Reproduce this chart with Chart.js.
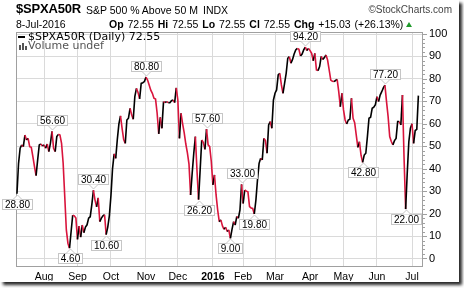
<!DOCTYPE html>
<html>
<head>
<meta charset="utf-8">
<script src="https://cdn.jsdelivr.net/npm/chart.js@4.4.1/dist/chart.umd.min.js"></script>
<style>
  html, body { margin: 0; padding: 0; background: #fff; }
  #frame { position: absolute; left: 0; top: 0; width: 459px; height: 282px; background: #fff;
           box-shadow: 3px 3px 3px rgba(0,0,0,0.85); overflow: hidden; }
  #chart { position: absolute; left: 0; top: 0; }
  .hdr { position: absolute; white-space: nowrap; line-height: 1; color: #000;
         font-family: "Liberation Sans", Arial, sans-serif; }
  #sym { left: 16px; top: 2px; font-size: 13px; font-weight: bold; letter-spacing: -0.2px; }
  #name { left: 86px; top: 5px; font-size: 10.5px; }
  #indx { left: 203px; top: 5px; font-size: 10.5px; }
  #brand { right: 7px; top: 5px; font-size: 10px; color: #444; }
  #date { left: 16px; top: 19px; font-size: 10.5px; }
  #quote { left: 109px; top: 19px; font-size: 10.5px; word-spacing: 1px; }
  #up { display: inline-block; width: 0; height: 0; margin-left: 3px; vertical-align: 1px;
        border-left: 3px solid transparent; border-right: 3px solid transparent; border-bottom: 5px solid #1f9a2a; }
</style>
</head>
<body>
<div id="frame">
  <canvas id="chart" width="459" height="282"></canvas>
  <div class="hdr" id="sym">$SPXA50R</div>
  <div class="hdr" id="name">S&amp;P 500 % Above 50 M</div>
  <div class="hdr" id="indx">INDX</div>
  <div class="hdr" id="brand">©StockCharts.com</div>
  <div class="hdr" id="date">8-Jul-2016</div>
  <div class="hdr" id="quote"><b>Op</b> 72.55 <b>Hi</b> 72.55 <b>Lo</b> 72.55 <b>Cl</b> 72.55 <b>Chg</b> +15.03 (+26.13%)<span id="up"></span></div>
</div>
<script>
// one value per trading day, 9-Jul-2015 .. 8-Jul-2016
const values = [
    28.8, 42.4, 49.1, 50.6, 49.8, 55.0, 52.8, 53.5, 49.8, 49.5,
    45.4, 40.9, 36.9, 43.9, 50.6, 51.0, 50.1, 50.6, 49.1, 51.0,
    47.6, 51.3, 56.6, 49.1, 47.6, 54.3, 55.3, 55.0, 51.3, 42.4,
    27.6, 12.7, 6.8, 4.6, 12.0, 19.3, 19.0, 18.0, 8.5, 14.4,
    9.5, 14.9, 11.5, 14.0, 15.0, 18.0, 18.6, 24.0, 30.4, 26.0,
    23.0, 27.0, 16.4, 18.0, 19.0, 19.5, 10.6, 14.0, 19.0, 28.0,
    40.0, 46.6, 44.6, 53.0, 60.0, 63.5, 58.0, 53.0, 51.3, 61.7,
    62.5, 66.9, 64.0, 62.0, 72.1, 75.8, 74.0, 71.1, 78.0, 78.3,
    78.8, 80.8, 79.5, 77.3, 75.0, 73.6, 71.4, 71.0, 64.7, 55.5,
    62.9, 58.0, 69.9, 69.5, 69.9, 69.4, 69.4, 70.3, 70.6, 69.4,
    76.0, 70.6, 53.5, 64.7, 60.0, 56.0, 51.0, 47.0, 42.0, 28.3,
    38.0, 46.9, 54.3, 39.4, 26.2, 39.4, 52.8, 51.6, 48.6, 57.6,
    50.6, 49.8, 43.2, 32.8, 37.2, 28.3, 21.6, 16.4, 17.2, 14.5,
    13.0, 13.9, 12.0, 12.7, 9.0, 13.0, 16.4, 14.9, 18.7, 17.9,
    21.6, 33.0, 24.5, 30.5, 30.0, 29.7, 23.1, 22.5, 22.3, 19.8,
    26.0, 35.0, 42.4, 44.6, 43.9, 53.5, 52.5, 46.9, 59.5, 61.0,
    58.0, 70.6, 73.6, 75.1, 81.8, 82.5, 77.3, 73.6, 78.0, 82.5,
    89.2, 89.9, 87.0, 88.7, 91.1, 92.9, 93.6, 93.2, 90.2, 91.1,
    92.9, 94.2, 92.6, 93.6, 92.6, 91.4, 88.1, 91.4, 84.0, 83.7,
    85.5, 90.0, 88.6, 89.5, 90.7, 88.4, 84.0, 79.5, 79.0, 78.8,
    79.3, 79.8, 74.3, 67.6, 73.6, 66.2, 61.7, 59.9, 61.7, 62.0,
    71.4, 62.5, 60.5, 55.0, 49.5, 52.0, 46.0, 42.8, 46.1, 46.9,
    54.3, 62.5, 62.9, 66.9, 67.4, 68.5, 72.1, 69.9, 72.8, 74.3,
    76.0, 77.2, 69.9, 63.2, 54.3, 52.1, 50.6, 52.5, 53.5, 61.0,
    61.0, 59.5, 72.8, 45.0, 22.0, 38.0, 52.0, 58.0, 60.0, 51.3,
    57.0, 57.52, 72.55
];

// first trading day of each month (index into values)
const monthTicks = [17, 38, 59, 81, 101, 123, 142, 162, 184, 205, 226, 248];
const monthLabels = ['Aug', 'Sep', 'Oct', 'Nov', 'Dec', '2016', 'Feb', 'Mar', 'Apr', 'May', 'Jun', 'Jul'];
const yTicks = [0, 10, 20, 30, 40, 50, 60, 70, 80, 90, 100];

// highs and lows that carry a value tag
const markIdx = [0, 22, 33, 48, 56, 81, 114, 119, 134, 141, 149, 181, 217, 231, 244];
const markSide = ['down', 'up', 'down', 'up', 'down', 'up', 'down', 'up', 'down', 'up', 'down', 'up', 'down', 'up', 'down'];

const RED = '#d9143c';
const GRID = '#dadada';
const AXIS_FONT = '"Liberation Sans", Arial, sans-serif';

const decor = {
    id: 'decor',
    beforeDatasetsDraw(chart) {
        const { ctx, chartArea: a, scales: { y } } = chart;
        ctx.save();
        ctx.strokeStyle = '#a0a0a0';
        ctx.lineWidth = 1;
        ctx.strokeRect(a.left + 0.5, a.top + 0.5, a.right - a.left - 1, a.bottom - a.top - 1);

        // small ticks on the right edge
        for (let v = 0; v <= 100; v += 2) {
            const py = Math.round(y.getPixelForValue(v)) + 0.5;
            ctx.beginPath();
            ctx.moveTo(a.right, py);
            ctx.lineTo(a.right + (v % 10 === 0 ? 4 : 2), py);
            ctx.stroke();
        }

        // legend
        ctx.fillStyle = '#000';
        ctx.fillRect(a.left + 2, a.top + 4, 7, 2);
        ctx.font = '11px "DejaVu Sans", Verdana, sans-serif';
        ctx.textBaseline = 'middle';
        ctx.fillText('$SPXA50R (Daily) 72.55', a.left + 12, a.top + 5);
        ctx.fillStyle = '#555';
        [[0, 5], [3, 7], [6, 4]].forEach(([dx, h]) => ctx.fillRect(a.left + 3 + dx, a.top + 18 - h, 2, h));
        ctx.fillText('Volume undef', a.left + 12, a.top + 14);
        ctx.restore();
    },
    afterDatasetsDraw(chart) {
        const { ctx, scales: { x, y } } = chart;
        ctx.save();
        ctx.font = '10px ' + AXIS_FONT;
        ctx.textAlign = 'center';
        ctx.textBaseline = 'middle';
        ctx.lineWidth = 1;
        markIdx.forEach((i, k) => {
            const v = values[i];
            const px = Math.round(x.getPixelForValue(i));
            const py = Math.round(y.getPixelForValue(v));
            const txt = v.toFixed(2);
            const w = Math.ceil(ctx.measureText(txt).width) + 5;
            const h = 11;
            const bx = Math.max(1, Math.round(px - w / 2));
            const up = markSide[k] === 'up';
            const by = up ? py - 5 - h : py + 5;
            ctx.fillStyle = '#fff';
            ctx.strokeStyle = '#c6c6c6';
            ctx.fillRect(bx, by, w, h);
            ctx.strokeRect(bx + 0.5, by + 0.5, w - 1, h - 1);
            const edge = up ? by + h - 0.5 : by + 0.5;
            const tip = up ? py - 1 : py + 1;
            ctx.beginPath();
            ctx.moveTo(px - 4, edge);
            ctx.lineTo(px + 0.5, tip);
            ctx.lineTo(px + 5, edge);
            ctx.closePath();
            ctx.fill();
            ctx.beginPath();
            ctx.moveTo(px - 4, edge);
            ctx.lineTo(px + 0.5, tip);
            ctx.lineTo(px + 5, edge);
            ctx.stroke();
            ctx.fillStyle = '#000';
            ctx.fillText(txt, bx + w / 2, by + h / 2 + 0.5);
        });
        ctx.restore();
    }
};

new Chart(document.getElementById('chart'), {
    type: 'line',
    data: {
        datasets: [{
            data: values.map((v, i) => ({ x: i, y: v })),
            borderColor: '#000',
            borderWidth: 1.6,
            pointRadius: 0,
            tension: 0,
            segment: {
                borderColor: c => c.p1.parsed.y < c.p0.parsed.y ? RED : '#000'
            }
        }]
    },
    options: {
        responsive: false,
        animation: false,
        events: [],
        layout: { padding: { left: 16, top: 32, right: 4, bottom: 1 } },
        plugins: { legend: { display: false }, tooltip: { enabled: false } },
        scales: {
            x: {
                type: 'linear',
                min: -0.6,
                max: 254.9,
                afterBuildTicks: s => { s.ticks = monthTicks.map(v => ({ value: v })); },
                afterFit: s => { s.height = 14; },
                grid: { color: GRID, drawTicks: false },
                border: { display: false },
                ticks: {
                    autoSkip: false,
                    maxRotation: 0,
                    padding: 4,
                    color: '#000',
                    font: c => ({ family: AXIS_FONT, size: 10.5, weight: c.index === 5 ? 'bold' : 'normal' }),
                    callback: (v, i) => monthLabels[i]
                }
            },
            y: {
                position: 'right',
                min: -3.8,
                max: 100.9,
                afterBuildTicks: s => { s.ticks = yTicks.map(v => ({ value: v })); },
                afterFit: s => { s.width = 32; },
                grid: { color: GRID, drawTicks: false },
                border: { display: false },
                ticks: {
                    padding: 6,
                    color: '#000',
                    font: { family: AXIS_FONT, size: 11 }
                }
            }
        }
    },
    plugins: [decor]
});
</script>
</body>
</html>
